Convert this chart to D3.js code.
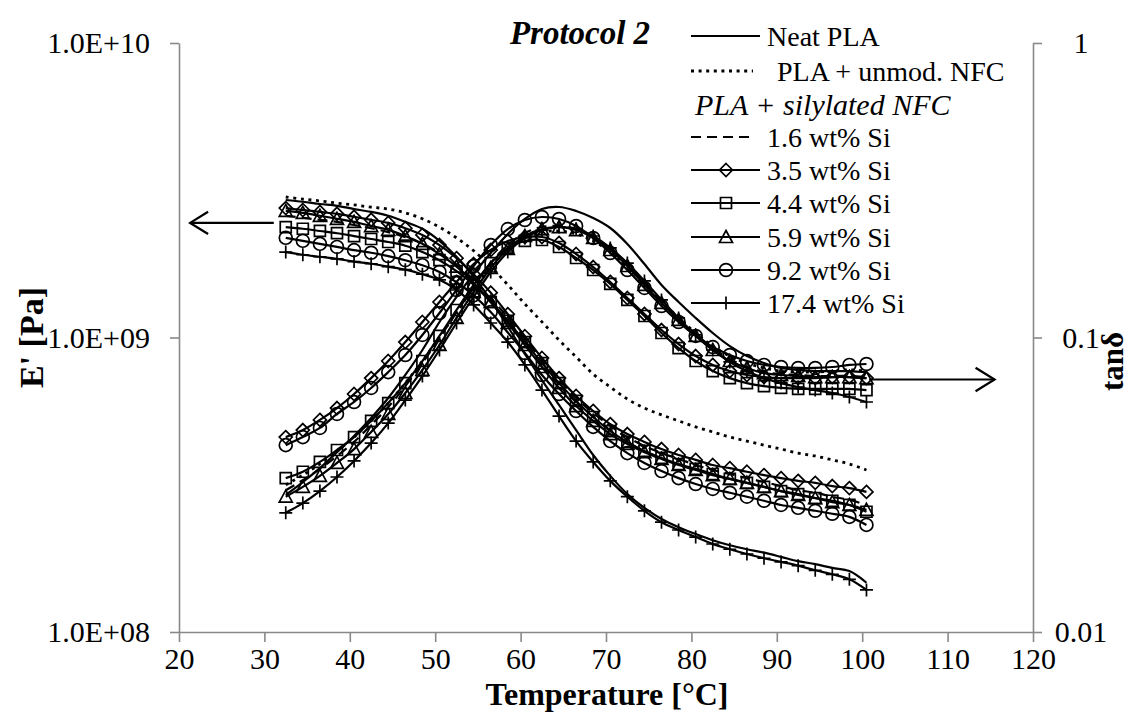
<!DOCTYPE html>
<html>
<head>
<meta charset="utf-8">
<script src="https://cdn.jsdelivr.net/npm/d3@7"></script>
<style>
    body { margin: 0; background: #ffffff; }
    svg { display: block; font-family: "Liberation Serif", "Times New Roman", serif; }
</style>
</head>
<body>
<div id="chart"></div>
<script>
// Temperature of each measured point [°C]
const temps = [32.5, 34.5, 36.5, 38.5, 40.5, 42.5, 44.5, 46.5, 48.5, 50.5, 52.5, 54.5, 56.5, 58.5, 60.5, 62.5, 64.5,
    66.5, 68.5, 70.5, 72.5, 74.5, 76.5, 78.5, 80.5, 82.5, 84.5, 86.5, 88.5, 90.5, 92.5, 94.5, 96.5, 98.5, 100.5];

// Storage modulus E' [Pa]
const neatE = [2.93e9, 2.89e9, 2.84e9, 2.80e9, 2.73e9, 2.67e9, 2.59e9, 2.47e9, 2.34e9, 2.13e9, 1.88e9, 1.61e9, 1.34e9, 1.09e9, 8.79e8, 7.17e8, 5.90e8,
    4.85e8, 3.99e8, 3.39e8, 2.94e8, 2.64e8, 2.42e8, 2.27e8, 2.15e8, 2.05e8, 1.97e8, 1.91e8, 1.86e8, 1.80e8, 1.74e8, 1.70e8, 1.65e8, 1.61e8, 1.47e8];
const unmodE = [3.00e9, 2.95e9, 2.91e9, 2.86e9, 2.82e9, 2.77e9, 2.73e9, 2.65e9, 2.53e9, 2.37e9, 2.18e9, 1.97e9, 1.74e9, 1.51e9, 1.30e9, 1.13e9, 9.80e8,
    8.59e8, 7.51e8, 6.79e8, 6.18e8, 5.76e8, 5.46e8, 5.21e8, 4.97e8, 4.78e8, 4.59e8, 4.45e8, 4.31e8, 4.18e8, 4.05e8, 3.96e8, 3.84e8, 3.72e8, 3.55e8];
const si16E = [2.59e9, 2.55e9, 2.51e9, 2.47e9, 2.41e9, 2.35e9, 2.28e9, 2.19e9, 2.08e9, 1.94e9, 1.76e9, 1.57e9, 1.36e9, 1.17e9, 9.88e8, 8.39e8, 7.17e8,
    6.23e8, 5.54e8, 5.01e8, 4.59e8, 4.28e8, 4.05e8, 3.87e8, 3.69e8, 3.55e8, 3.44e8, 3.33e8, 3.23e8, 3.13e8, 3.03e8, 2.97e8, 2.88e8, 2.81e8, 2.70e8];
const si35E = [2.75e9, 2.71e9, 2.67e9, 2.63e9, 2.57e9, 2.51e9, 2.45e9, 2.35e9, 2.23e9, 2.06e9, 1.86e9, 1.64e9, 1.42e9, 1.20e9, 1.01e9, 8.52e8, 7.28e8,
    6.33e8, 5.63e8, 5.08e8, 4.70e8, 4.42e8, 4.18e8, 3.99e8, 3.84e8, 3.69e8, 3.60e8, 3.50e8, 3.41e8, 3.33e8, 3.26e8, 3.21e8, 3.13e8, 3.08e8, 2.99e8];
const si44E = [2.37e9, 2.34e9, 2.30e9, 2.26e9, 2.21e9, 2.16e9, 2.11e9, 2.05e9, 1.95e9, 1.83e9, 1.68e9, 1.51e9, 1.32e9, 1.14e9, 9.65e8, 8.19e8, 7.00e8,
    6.09e8, 5.37e8, 4.81e8, 4.42e8, 4.12e8, 3.90e8, 3.72e8, 3.58e8, 3.44e8, 3.31e8, 3.21e8, 3.11e8, 3.01e8, 2.94e8, 2.85e8, 2.79e8, 2.70e8, 2.56e8];
const si59E = [2.69e9, 2.65e9, 2.59e9, 2.53e9, 2.47e9, 2.39e9, 2.32e9, 2.21e9, 2.08e9, 1.92e9, 1.74e9, 1.53e9, 1.32e9, 1.12e9, 9.43e8, 7.94e8, 6.74e8,
    5.85e8, 5.21e8, 4.70e8, 4.35e8, 4.08e8, 3.87e8, 3.69e8, 3.55e8, 3.41e8, 3.31e8, 3.21e8, 3.11e8, 3.01e8, 2.92e8, 2.85e8, 2.76e8, 2.70e8, 2.60e8];
const si92E = [2.18e9, 2.13e9, 2.08e9, 2.03e9, 1.98e9, 1.94e9, 1.89e9, 1.83e9, 1.76e9, 1.67e9, 1.54e9, 1.39e9, 1.22e9, 1.04e9, 8.86e8, 7.46e8, 6.43e8,
    5.63e8, 4.97e8, 4.45e8, 4.05e8, 3.75e8, 3.52e8, 3.33e8, 3.18e8, 3.06e8, 2.97e8, 2.88e8, 2.79e8, 2.70e8, 2.64e8, 2.58e8, 2.52e8, 2.46e8, 2.31e8];
const si174E = [1.95e9, 1.91e9, 1.88e9, 1.85e9, 1.81e9, 1.78e9, 1.74e9, 1.70e9, 1.64e9, 1.57e9, 1.45e9, 1.29e9, 1.12e9, 9.65e8, 8.07e8, 6.63e8, 5.41e8,
    4.45e8, 3.78e8, 3.26e8, 2.88e8, 2.58e8, 2.36e8, 2.22e8, 2.10e8, 1.99e8, 1.91e8, 1.84e8, 1.78e8, 1.73e8, 1.68e8, 1.62e8, 1.57e8, 1.51e8, 1.39e8];

// Loss factor tan delta
const neatTan = [0.0292, 0.0323, 0.0360, 0.0408, 0.0463, 0.0533, 0.0623, 0.0746, 0.0907, 0.1129, 0.1373, 0.1643, 0.1936, 0.2246, 0.2526, 0.2731, 0.2774,
    0.2689, 0.2545, 0.2354, 0.2078, 0.1776, 0.1508, 0.1320, 0.1165, 0.1036, 0.0935, 0.0865, 0.0819, 0.0788, 0.0776, 0.0769, 0.0769, 0.0769, 0.0763];
const unmodTan = [0.0316, 0.0341, 0.0372, 0.0412, 0.0459, 0.0521, 0.0599, 0.0700, 0.0832, 0.1004, 0.1221, 0.1473, 0.1749, 0.1998, 0.2177, 0.2281, 0.2299,
    0.2246, 0.2127, 0.1951, 0.1735, 0.1520, 0.1330, 0.1165, 0.1036, 0.0935, 0.0865, 0.0819, 0.0788, 0.0769, 0.0763, 0.0763, 0.0769, 0.0776, 0.0769];
const si16Tan = [0.0303, 0.0328, 0.0358, 0.0396, 0.0442, 0.0505, 0.0581, 0.0684, 0.0819, 0.0996, 0.1221, 0.1484, 0.1790, 0.2061, 0.2264, 0.2372, 0.2391,
    0.2335, 0.2194, 0.1998, 0.1763, 0.1531, 0.1330, 0.1165, 0.1028, 0.0921, 0.0845, 0.0794, 0.0763, 0.0751, 0.0746, 0.0740, 0.0740, 0.0740, 0.0734];
const si35Tan = [0.0459, 0.0485, 0.0525, 0.0576, 0.0643, 0.0728, 0.0832, 0.0965, 0.1129, 0.1320, 0.1544, 0.1776, 0.1982, 0.2127, 0.2194, 0.2194, 0.2094,
    0.1921, 0.1735, 0.1544, 0.1362, 0.1202, 0.1060, 0.0950, 0.0865, 0.0807, 0.0769, 0.0746, 0.0734, 0.0728, 0.0728, 0.0728, 0.0734, 0.0734, 0.0728];
const si44Tan = [0.0333, 0.0350, 0.0378, 0.0415, 0.0459, 0.0521, 0.0599, 0.0700, 0.0832, 0.1012, 0.1240, 0.1508, 0.1790, 0.2014, 0.2127, 0.2143, 0.2029,
    0.1862, 0.1695, 0.1520, 0.1341, 0.1183, 0.1036, 0.0921, 0.0832, 0.0769, 0.0728, 0.0700, 0.0684, 0.0674, 0.0669, 0.0669, 0.0669, 0.0669, 0.0663];
const si59Tan = [0.0288, 0.0311, 0.0339, 0.0375, 0.0418, 0.0478, 0.0550, 0.0648, 0.0776, 0.0943, 0.1165, 0.1427, 0.1722, 0.1998, 0.2211, 0.2335, 0.2372,
    0.2317, 0.2177, 0.1982, 0.1749, 0.1508, 0.1310, 0.1147, 0.1012, 0.0907, 0.0832, 0.0788, 0.0757, 0.0746, 0.0740, 0.0734, 0.0734, 0.0734, 0.0728];
const si92Tan = [0.0431, 0.0459, 0.0493, 0.0550, 0.0604, 0.0674, 0.0763, 0.0872, 0.1020, 0.1211, 0.1450, 0.1749, 0.2061, 0.2335, 0.2506, 0.2565, 0.2526,
    0.2391, 0.2177, 0.1936, 0.1695, 0.1473, 0.1279, 0.1129, 0.1012, 0.0928, 0.0872, 0.0832, 0.0807, 0.0794, 0.0788, 0.0788, 0.0794, 0.0807, 0.0813];
const si174Tan = [0.0254, 0.0274, 0.0301, 0.0336, 0.0381, 0.0438, 0.0512, 0.0613, 0.0740, 0.0907, 0.1120, 0.1373, 0.1669, 0.1951, 0.2177, 0.2317, 0.2372,
    0.2335, 0.2211, 0.2014, 0.1790, 0.1556, 0.1341, 0.1165, 0.1020, 0.0907, 0.0826, 0.0769, 0.0728, 0.0700, 0.0679, 0.0663, 0.0648, 0.0628, 0.0604];

const seriesLabels = ["Neat PLA", "PLA + unmod. NFC", "1.6 wt% Si", "3.5 wt% Si", "4.4 wt% Si", "5.9 wt% Si", "9.2 wt% Si", "17.4 wt% Si"];
const xTicks = [20, 30, 40, 50, 60, 70, 80, 90, 100, 110, 120];
const eTicks = [1e8, 1e9, 1e10];
const eTickLabels = ["1.0E+08", "1.0E+09", "1.0E+10"];
const tanTicks = [0.01, 0.1, 1];
const tanTickLabels = ["0.01", "0.1", "1"];

// Line / marker styles per series
const styles = [
    { dash: null, marker: null },
    { dash: "3,4.6", marker: null, width: 2.8 },
    { dash: "10,6", marker: null },
    { dash: null, marker: "diamond" },
    { dash: null, marker: "square" },
    { dash: null, marker: "triangle" },
    { dash: null, marker: "circle" },
    { dash: null, marker: "plus" }
];

const markerPaths = {
    diamond: "M0,-6.5L6.5,0L0,6.5L-6.5,0Z",
    square: "M-5.5,-5.5H5.5V5.5H-5.5Z",
    triangle: "M0,-6.5L6.5,5.5H-6.5Z",
    circle: d3.symbol(d3.symbolCircle, 130)(),
    plus: "M-6.5,0H6.5M0,-6.5V6.5"
};

const eSeries = [neatE, unmodE, si16E, si35E, si44E, si59E, si92E, si174E];
const tanSeries = [neatTan, unmodTan, si16Tan, si35Tan, si44Tan, si59Tan, si92Tan, si174Tan];

const width = 1131, height = 713;
const margin = { top: 43, right: 98, bottom: 81, left: 179 };
const axisColor = "#898989";

const svg = d3.select("#chart").append("svg")
    .attr("width", width)
    .attr("height", height);

svg.append("rect").attr("width", width).attr("height", height).attr("fill", "#ffffff");

const x = d3.scaleLinear().domain([20, 120]).range([margin.left, width - margin.right]);
const yE = d3.scaleLog().domain([1e8, 1e10]).range([height - margin.bottom, margin.top]);
const yT = d3.scaleLog().domain([0.01, 1]).range([height - margin.bottom, margin.top]);

// Axes
function styleAxis(g) {
    g.attr("font-family", null);
    g.select(".domain").attr("stroke", axisColor).attr("stroke-width", 1.6);
    g.selectAll(".tick line").attr("stroke", axisColor).attr("stroke-width", 1.6);
    g.selectAll(".tick text").attr("fill", "#000").attr("font-size", 30);
}

svg.append("g")
    .attr("transform", `translate(0,${height - margin.bottom})`)
    .call(d3.axisBottom(x).tickValues(xTicks).tickSize(10).tickSizeOuter(0).tickPadding(6))
    .call(styleAxis);

svg.append("g")
    .attr("transform", `translate(${margin.left},0)`)
    .call(d3.axisLeft(yE).tickValues(eTicks).tickFormat((d, i) => eTickLabels[i])
        .tickSize(9).tickSizeOuter(0).tickPadding(20))
    .call(styleAxis);

svg.append("g")
    .attr("transform", `translate(${width - margin.right},0)`)
    .call(d3.axisRight(yT).tickValues(tanTicks).tickFormat((d, i) => tanTickLabels[i])
        .tickSize(9).tickSizeOuter(0).tickPadding(39))
    .call(styleAxis)
    .call(g => g.selectAll(".tick text").attr("text-anchor", "middle"));

// Axis titles
svg.append("text")
    .attr("x", 607)
    .attr("y", 705)
    .attr("text-anchor", "middle")
    .attr("font-size", 32).attr("font-weight", "bold")
    .text("Temperature [°C]");

svg.append("text")
    .attr("transform", `translate(43,${yE(1e9)}) rotate(-90)`)
    .attr("text-anchor", "middle")
    .attr("font-size", 34).attr("font-weight", "bold")
    .text("E' [Pa]");

svg.append("text")
    .attr("transform", `translate(1123,${yT(0.1) + 24}) rotate(-90)`)
    .attr("text-anchor", "middle")
    .attr("font-size", 31).attr("font-weight", "bold")
    .text("tanδ");

// Title
svg.append("text")
    .attr("x", 580).attr("y", 44)
    .attr("text-anchor", "middle")
    .attr("font-size", 33).attr("font-weight", "bold").attr("font-style", "italic")
    .text("Protocol 2");

// Curves
const plot = svg.append("g");

function drawSeries(values, yScale, i) {
    const st = styles[i];
    const pts = temps.map((t, k) => [x(t), yScale(values[k])]);
    const line = d3.line().curve(d3.curveCatmullRom.alpha(0.5));
    plot.append("path")
        .attr("d", line(pts))
        .attr("fill", "none")
        .attr("stroke", "#000")
        .attr("stroke-width", st.width || 2.2)
        .attr("stroke-dasharray", st.dash);
    if (st.marker) {
        plot.selectAll(null)
            .data(pts)
            .enter()
            .append("path")
            .attr("transform", d => `translate(${d[0]},${d[1]})`)
            .attr("d", markerPaths[st.marker])
            .attr("fill", "none")
            .attr("stroke", "#000")
            .attr("stroke-width", 1.7);
    }
}

eSeries.forEach((v, i) => drawSeries(v, yE, i));
tanSeries.forEach((v, i) => drawSeries(v, yT, i));

// Arrows pointing to the axis each curve family belongs to
function arrow(x1, x2, y, head) {
    const dir = x2 < x1 ? 1 : -1;
    const g = svg.append("g").attr("stroke", "#000").attr("stroke-width", 2.2).attr("fill", "none");
    g.append("line").attr("x1", x1).attr("x2", x2).attr("y1", y).attr("y2", y);
    g.append("path").attr("d", `M${x2 + dir * head},${y - head * 0.62}L${x2},${y}L${x2 + dir * head},${y + head * 0.62}`);
}
arrow(x(31.1), x(21.3), yE(2.45e9), 18);
arrow(x(100.8), x(115.5), yT(0.072), 19);

// Legend
const legendRows = [
    { i: 0, y: 36, textX: 767 },
    { i: 1, y: 71, textX: 777 },
    { i: 2, y: 137, textX: 767 },
    { i: 3, y: 170, textX: 767 },
    { i: 4, y: 203, textX: 767 },
    { i: 5, y: 237, textX: 767 },
    { i: 6, y: 270, textX: 767 },
    { i: 7, y: 303, textX: 767 }
];

const legend = svg.append("g");
legendRows.forEach(r => {
    const st = styles[r.i];
    legend.append("line")
        .attr("x1", 691).attr("x2", st.dash ? 753 : 760)
        .attr("y1", r.y).attr("y2", r.y)
        .attr("stroke", "#000")
        .attr("stroke-width", st.width || 2.2)
        .attr("stroke-dasharray", st.dash);
    if (st.marker) {
        legend.append("path")
            .attr("transform", `translate(726,${r.y})`)
            .attr("d", markerPaths[st.marker])
            .attr("fill", "none").attr("stroke", "#000").attr("stroke-width", 1.7);
    }
    legend.append("text")
        .attr("x", r.textX).attr("y", r.y + 10)
        .attr("font-size", 28)
        .text(seriesLabels[r.i]);
});

legend.append("text")
    .attr("x", 695).attr("y", 115)
    .attr("font-size", 30).attr("font-style", "italic")
    .text("PLA + silylated NFC");
</script>
</body>
</html>
